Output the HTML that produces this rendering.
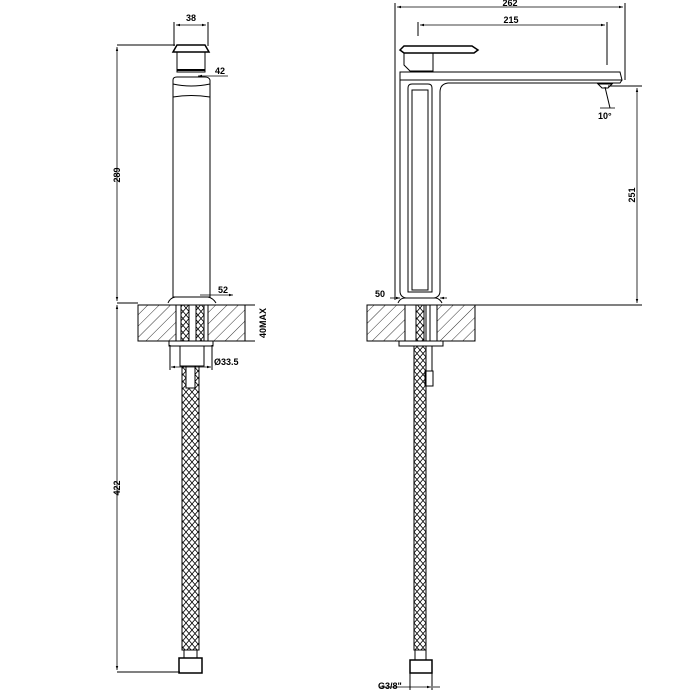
<!DOCTYPE html>
<html><head><meta charset="utf-8"><style>html,body{margin:0;padding:0;background:#fff}svg{display:block}</style></head><body>
<svg width="700" height="700" viewBox="0 0 700 700" xmlns="http://www.w3.org/2000/svg" font-family="Liberation Sans, sans-serif" font-weight="bold" font-size="9">
<defs>
<pattern id="h" width="8" height="8" patternUnits="userSpaceOnUse" patternTransform="rotate(45)"><line x1="0" y1="0" x2="0" y2="8" stroke="#000" stroke-width="0.8"/></pattern>
<pattern id="x" width="6" height="7" patternUnits="userSpaceOnUse"><path d="M0 0L6 7M6 0L0 7" stroke="#000" stroke-width="0.8"/></pattern>
<marker id="a" markerWidth="6" markerHeight="6" refX="5" refY="3" orient="auto-start-reverse"><path d="M0 1.5L5 3L0 4.5z" fill="#000"/></marker>
</defs>
<g stroke="#000" fill="none" stroke-width="1">
<path d="M173 52L177 45H205L209 52Z" stroke-width="1.5"/>
<rect x="177" y="52" width="28" height="20"/>
<line x1="177" y1="70" x2="205" y2="70" stroke-width="2"/>
<path d="M173 80Q173 77 177 77H205Q209 77 210 80V297H173Z"/>
<path d="M173 84Q191 88 210 84"/>
<path d="M173 97Q191 94 210 97"/>
<path d="M168 303Q170 298 175 297H208Q213 298 216 303"/>
<rect x="138" y="305" width="107" height="36" fill="url(#h)"/>
<rect x="176" y="305" width="32" height="36" fill="#fff"/>
<rect x="181" y="305" width="8" height="36" fill="url(#x)"/>
<rect x="196" y="305" width="8" height="36" fill="url(#x)"/>
<rect x="169" y="341" width="44" height="5"/>
<rect x="180" y="346" width="24" height="20"/>
<rect x="182" y="366" width="17" height="284" fill="url(#x)"/>
<rect x="186" y="366" width="9" height="22" fill="#fff"/>
<rect x="184" y="650" width="13" height="8" fill="#fff"/>
<rect x="179" y="658" width="23" height="15" stroke-width="1.5"/>
<line x1="117" y1="45" x2="175" y2="45"/>
<line x1="117" y1="303" x2="138" y2="303"/>
<line x1="117" y1="672" x2="180" y2="672"/>
<line x1="117" y1="47" x2="117" y2="301" marker-start="url(#a)" marker-end="url(#a)" stroke-width="0.8"/>
<line x1="117" y1="305" x2="117" y2="670" marker-start="url(#a)" marker-end="url(#a)" stroke-width="0.8"/>
<line x1="174" y1="22" x2="174" y2="46"/><line x1="208" y1="22" x2="208" y2="46"/>
<line x1="176" y1="25" x2="206" y2="25" marker-start="url(#a)" marker-end="url(#a)" stroke-width="0.8"/>
<line x1="198" y1="76" x2="228" y2="76" marker-start="url(#a)" stroke-width="0.8"/>
<line x1="200" y1="295" x2="233" y2="295" marker-end="url(#a)" stroke-width="0.8"/>
<line x1="245" y1="305" x2="255" y2="305"/><line x1="245" y1="341" x2="255" y2="341"/>
<line x1="170" y1="345" x2="170" y2="370"/><line x1="212" y1="345" x2="212" y2="370"/>
<line x1="171" y1="367" x2="211" y2="367" marker-start="url(#a)" marker-end="url(#a)" stroke-width="0.8"/>
<path d="M400 50L404 46H472L478 50L474 53H404Z" stroke-width="1.5"/>
<path d="M404 53V65L410 71H433V53"/>
<path d="M400 72H620L622 80H400Z"/>
<path d="M400 80V291Q400 297 406 298H434Q440 297 440 291V92Q440 84 448 83H620L622 80"/>
<path d="M408 88Q408 84 412 84H428Q432 84 432 88V292H408Z"/>
<path d="M412 90H428V290H412Z"/>
<path d="M398 303Q400 298 405 298H436Q440 299 442 303"/>
<path d="M598 84H612L608 88H602Z"/>
<rect x="367" y="305" width="108" height="36" fill="url(#h)"/>
<rect x="405" y="305" width="32" height="36" fill="#fff"/>
<rect x="416" y="305" width="8" height="36" fill="url(#x)"/>
<rect x="426" y="305" width="4" height="36"/>
<rect x="399" y="341" width="44" height="5"/>
<rect x="414" y="346" width="12" height="304" fill="url(#x)"/>
<rect x="426" y="346" width="6" height="25"/>
<rect x="425" y="371" width="8" height="15"/>
<rect x="415" y="650" width="11" height="10" fill="#fff"/>
<rect x="410" y="660" width="22" height="13" stroke-width="1.5"/>
<line x1="395" y1="3" x2="395" y2="300"/>
<line x1="625" y1="3" x2="625" y2="80"/>
<line x1="397" y1="7" x2="623" y2="7" marker-start="url(#a)" marker-end="url(#a)" stroke-width="0.8"/>
<line x1="418" y1="22" x2="418" y2="36"/><line x1="607" y1="22" x2="607" y2="65"/>
<line x1="420" y1="25" x2="605" y2="25" marker-start="url(#a)" marker-end="url(#a)" stroke-width="0.8"/>
<line x1="440" y1="305" x2="642" y2="305"/>
<line x1="608" y1="86" x2="642" y2="86"/>
<line x1="637" y1="88" x2="637" y2="303" marker-start="url(#a)" marker-end="url(#a)" stroke-width="0.8"/>
<line x1="605" y1="87" x2="610" y2="108"/><line x1="600" y1="108" x2="615" y2="108" stroke-width="0.8"/>
<line x1="390" y1="298" x2="400" y2="298" marker-end="url(#a)" stroke-width="0.8"/>
<line x1="440" y1="298" x2="447" y2="298" marker-start="url(#a)" stroke-width="0.8"/>
<line x1="410" y1="673" x2="410" y2="690"/><line x1="432" y1="673" x2="432" y2="690"/>
<line x1="380" y1="687" x2="431" y2="687" marker-end="url(#a)" stroke-width="0.8"/>
<line x1="433" y1="687" x2="440" y2="687" stroke-width="0.8"/>
</g>
<g fill="#000">
<text x="191" y="21" text-anchor="middle">38</text>
<text x="215" y="74">42</text>
<text x="218" y="293">52</text>
<text x="214" y="365">Ø33.5</text>
<text transform="translate(120 175) rotate(-90)" text-anchor="middle">289</text>
<text transform="translate(120 488) rotate(-90)" text-anchor="middle">422</text>
<text transform="translate(266 323) rotate(-90)" text-anchor="middle">40MAX</text>
<text x="510" y="6" text-anchor="middle">262</text>
<text x="511" y="23" text-anchor="middle">215</text>
<text transform="translate(635 195) rotate(-90)" text-anchor="middle">251</text>
<text x="598" y="119">10°</text>
<text x="375" y="297">50</text>
<text x="378" y="689">G3/8"</text>
</g>
</svg>
</body></html>
